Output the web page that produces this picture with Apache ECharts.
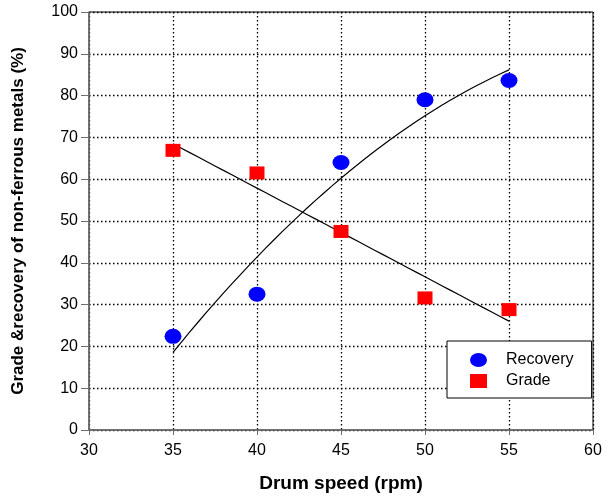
<!DOCTYPE html>
<html>
<head>
<meta charset="utf-8">
<script src="https://cdn.jsdelivr.net/npm/echarts@6/dist/echarts.min.js"></script>
<style>
  html, body { margin: 0; padding: 0; background: #ffffff; }
  #chart { width: 607px; height: 498px; }
</style>
</head>
<body>
<div id="chart"></div>
<script>
// Drum speed (rpm) and measured results for non-ferrous metals
const drumSpeed = [35, 40, 45, 50, 55];
const recovery = [22.4, 32.5, 64.0, 79.0, 83.6];
const grade = [66.9, 61.5, 47.5, 31.6, 28.8];

// Least-squares polynomial fit, returns coefficients c0..cn
function polyFit(xs, ys, degree) {
  const n = degree + 1;
  const A = [];
  for (let i = 0; i < n; i++) {
    A.push(new Array(n + 1).fill(0));
  }
  for (let k = 0; k < xs.length; k++) {
    for (let i = 0; i < n; i++) {
      for (let j = 0; j < n; j++) A[i][j] += Math.pow(xs[k], i + j);
      A[i][n] += Math.pow(xs[k], i) * ys[k];
    }
  }
  for (let i = 0; i < n; i++) {
    let p = i;
    for (let r = i + 1; r < n; r++) if (Math.abs(A[r][i]) > Math.abs(A[p][i])) p = r;
    [A[i], A[p]] = [A[p], A[i]];
    for (let r = 0; r < n; r++) {
      if (r === i) continue;
      const f = A[r][i] / A[i][i];
      for (let c = i; c <= n; c++) A[r][c] -= f * A[i][c];
    }
  }
  return A.map((row, i) => row[n] / row[i]);
}

// Trend line sampled across the measured speed range
function trendLine(xs, ys, degree) {
  const c = polyFit(xs, ys, degree);
  const x0 = xs[0], x1 = xs[xs.length - 1];
  const pts = [];
  const steps = 40;
  for (let s = 0; s <= steps; s++) {
    const x = x0 + (x1 - x0) * s / steps;
    let y = 0;
    for (let i = 0; i < c.length; i++) y += c[i] * Math.pow(x, i);
    pts.push([x, y]);
  }
  return pts;
}

const chart = echarts.init(document.getElementById('chart'), null, { renderer: 'canvas' });
const FONT = 'Liberation Sans, Arial, sans-serif';
const dotted = { color: '#000000', width: 1.3, type: [1.5, 2.5] };
const ELLIPSE = 'path://M0,7A8.5,7,0,1,1,17,7A8.5,7,0,1,1,0,7Z';

chart.setOption({
  animation: false,
  backgroundColor: '#ffffff',
  grid: {
    left: 89, right: 14, top: 12, bottom: 66,
    show: true, borderColor: '#000000', borderWidth: 1, backgroundColor: 'transparent'
  },
  legend: {
    data: [
      { name: 'Recovery', icon: ELLIPSE },
      { name: 'Grade', icon: 'rect' }
    ],
    orient: 'vertical',
    left: 447, top: 341,
    backgroundColor: '#ffffff',
    borderColor: '#000000', borderWidth: 1,
    padding: [11, 18, 9, 23],
    itemGap: 5,
    itemWidth: 17, itemHeight: 14,
    symbolKeepAspect: false,
    selectedMode: false,
    itemStyle: { opacity: 1 },
    textStyle: { fontFamily: FONT, fontSize: 16, color: '#000000', padding: [0, 0, 0, 14], lineHeight: 14 }
  },
  xAxis: {
    type: 'value', min: 30, max: 60, interval: 5,
    name: 'Drum speed (rpm)', nameLocation: 'middle', nameGap: 44,
    nameTextStyle: { fontFamily: FONT, fontSize: 19, fontWeight: 'bold', color: '#000000', verticalAlign: 'top' },
    axisLine: { show: true, onZero: false, lineStyle: { color: '#707070', width: 1.5 } },
    axisTick: { show: true, inside: false, length: 5, lineStyle: { color: '#707070' } },
    axisLabel: { fontFamily: FONT, fontSize: 16, color: '#000000', margin: 13 },
    splitLine: { show: true, lineStyle: dotted }
  },
  yAxis: {
    type: 'value', min: 0, max: 100, interval: 10,
    name: 'Grade &recovery of non-ferrous metals (%)', nameLocation: 'middle', nameGap: 62,
    nameTextStyle: { fontFamily: FONT, fontSize: 17, fontWeight: 'bold', color: '#000000' },
    axisLine: { show: true, onZero: false, lineStyle: { color: '#707070', width: 1.5 } },
    axisTick: { show: true, inside: false, length: 8, lineStyle: { color: '#707070' } },
    axisLabel: { fontFamily: FONT, fontSize: 16, color: '#000000', margin: 11 },
    splitLine: { show: true, lineStyle: dotted }
  },
  series: [
    {
      name: 'Recovery trend', type: 'line', silent: true, symbol: 'none',
      lineStyle: { color: '#000000', width: 1.2 }, z: 3,
      data: trendLine(drumSpeed, recovery, 2)
    },
    {
      name: 'Grade trend', type: 'line', silent: true, symbol: 'none',
      lineStyle: { color: '#000000', width: 1.2 }, z: 3,
      data: trendLine(drumSpeed, grade, 1)
    },
    {
      name: 'Recovery', type: 'scatter', symbol: 'circle', symbolSize: [17, 15],
      itemStyle: { color: '#0000ff', opacity: 1 }, z: 4,
      data: drumSpeed.map((x, i) => [x, recovery[i]])
    },
    {
      name: 'Grade', type: 'scatter', symbol: 'rect', symbolSize: [15, 13],
      itemStyle: { color: '#ff0000', opacity: 1 }, z: 4,
      data: drumSpeed.map((x, i) => [x, grade[i]])
    }
  ]
});
</script>
</body>
</html>
